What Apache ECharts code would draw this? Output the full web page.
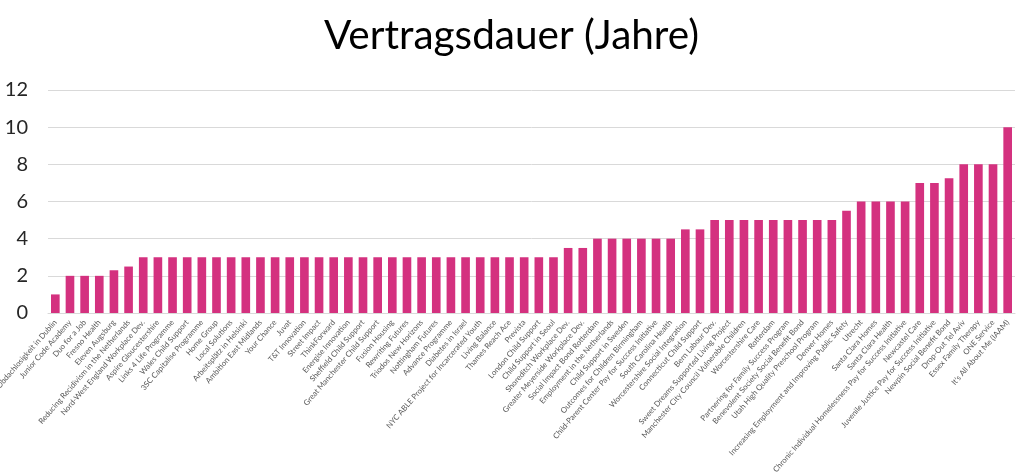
<!DOCTYPE html>
<html>
<head>
<meta charset="utf-8">
<script src="https://cdn.jsdelivr.net/npm/echarts@6/dist/echarts.min.js"></script>
<style>
html,body{margin:0;padding:0;background:#fff;}
#chart{width:1023px;height:475px;}
</style>
</head>
<body>
<div id="chart"></div>
<script>
const titleText = "Vertragsdauer (Jahre)";
const categories = [
  "Obdachlosigkeit in Dublin","Junior Code Academy","Duo for a Job","Fresno Health","Eleven Augsburg",
  "Reducing Recidivism in the Netherlands","Nord-West England Workplace Dev.","Aspire Gloucestershire",
  "Links 4 Life Programme","Wales Child Support","3SC Capitalise Programme","Home Group","Local Solutions",
  "Arbeitsplätz in Helsinki","Ambition East Midlands","Your Chance","Juvat","T&T Innovation","Street Impact",
  "ThinkForward","Energise Innovation","Sheffield Child Support","Great Manchester Child Support",
  "Fusion Housing","Rewriting Futures","Triodos New Horizons","Nottingham Futures","Advance Programme",
  "Diabetes in Israel","NYC ABLE Project for Incarcerated Youth","Living Balance","Thames Reach Ace",
  "Prevista","London Child Support","Child Support in Seoul","Shoreditch Workplace Dev.",
  "Greater Meyerside Workplace Dev.","Social Impact Bond Rotterdam","Employment in the Netherlands",
  "Child Support in Sweden","Outcomes for Children Birmingham","Child-Parent Center Pay for Success Initiative",
  "South Carolina Health","Worcestershire Social Integration","Connecticut Child Support","Bern Labour Dev.",
  "Sweet Dreams Supported Living Project","Manchester City Council Vulnerable Children","Worcestershire Care",
  "Rotterdam","Partnering for Family Success Program","Benevolent Society Social Benefit Bond",
  "Utah High Quality Preschool Program","Denver Homes","Increasing Employment and Improving Public Safety",
  "Utrecht","Santa Clara Homes","Santa Clara Health","Chronic Individual Homelessness Pay for Success Initiative",
  "Newcastel Care","Juvenile Justice Pay for Success Initiative","Newpin Social Benefit Bond",
  "Drop-Out Tel Aviv","Essex Family Therapy","ONE Service","It's All About Me (IAAM)"
];
const years = [
  1,2,2,2,2.3,2.5,3,3,3,3,3,3,3,3,3,3,3,3,3,3,3,3,3,3,3,3,3,3,3,3,3,3,3,3,3,
  3.5,3.5,4,4,4,4,4,4,4.5,4.5,5,5,5,5,5,5,5,5,5,5.5,6,6,6,6,7,7,7.25,8,8,8,10
];
const yTicks = { min: 0, max: 12, interval: 2 };

const chart = echarts.init(document.getElementById('chart'), null, {renderer: 'canvas'});
chart.setOption({
  animation: false,
  backgroundColor: '#ffffff',
  title: {
    text: titleText,
    left: 'center',
    top: 10,
    textStyle: { fontFamily: 'Lato', fontSize: 40.5, fontWeight: 'normal', color: '#000000' }
  },
  grid: { left: 48, right: 8, top: 90, bottom: 162, containLabel: false, outerBoundsMode: 'none' },
  xAxis: {
    type: 'category',
    data: categories,
    axisTick: { show: false },
    axisLine: { show: true, lineStyle: { color: '#d9d9d9', width: 1 } },
    axisLabel: {
      interval: 0,
      rotate: 49,
      fontFamily: 'Lato',
      fontSize: 7.8,
      color: '#595959',
      margin: 8
    }
  },
  yAxis: {
    type: 'value',
    min: yTicks.min,
    max: yTicks.max,
    interval: yTicks.interval,
    axisLine: { show: false },
    axisTick: { show: false },
    splitLine: { lineStyle: { color: '#d9d9d9', width: 1 } },
    axisLabel: { fontFamily: 'Lato', fontSize: 20, color: '#262626', margin: 20 }
  },
  series: [{
    type: 'bar',
    data: years,
    barWidth: '59%',
    itemStyle: { color: '#D4317F' }
  }]
});
</script>
</body>
</html>
